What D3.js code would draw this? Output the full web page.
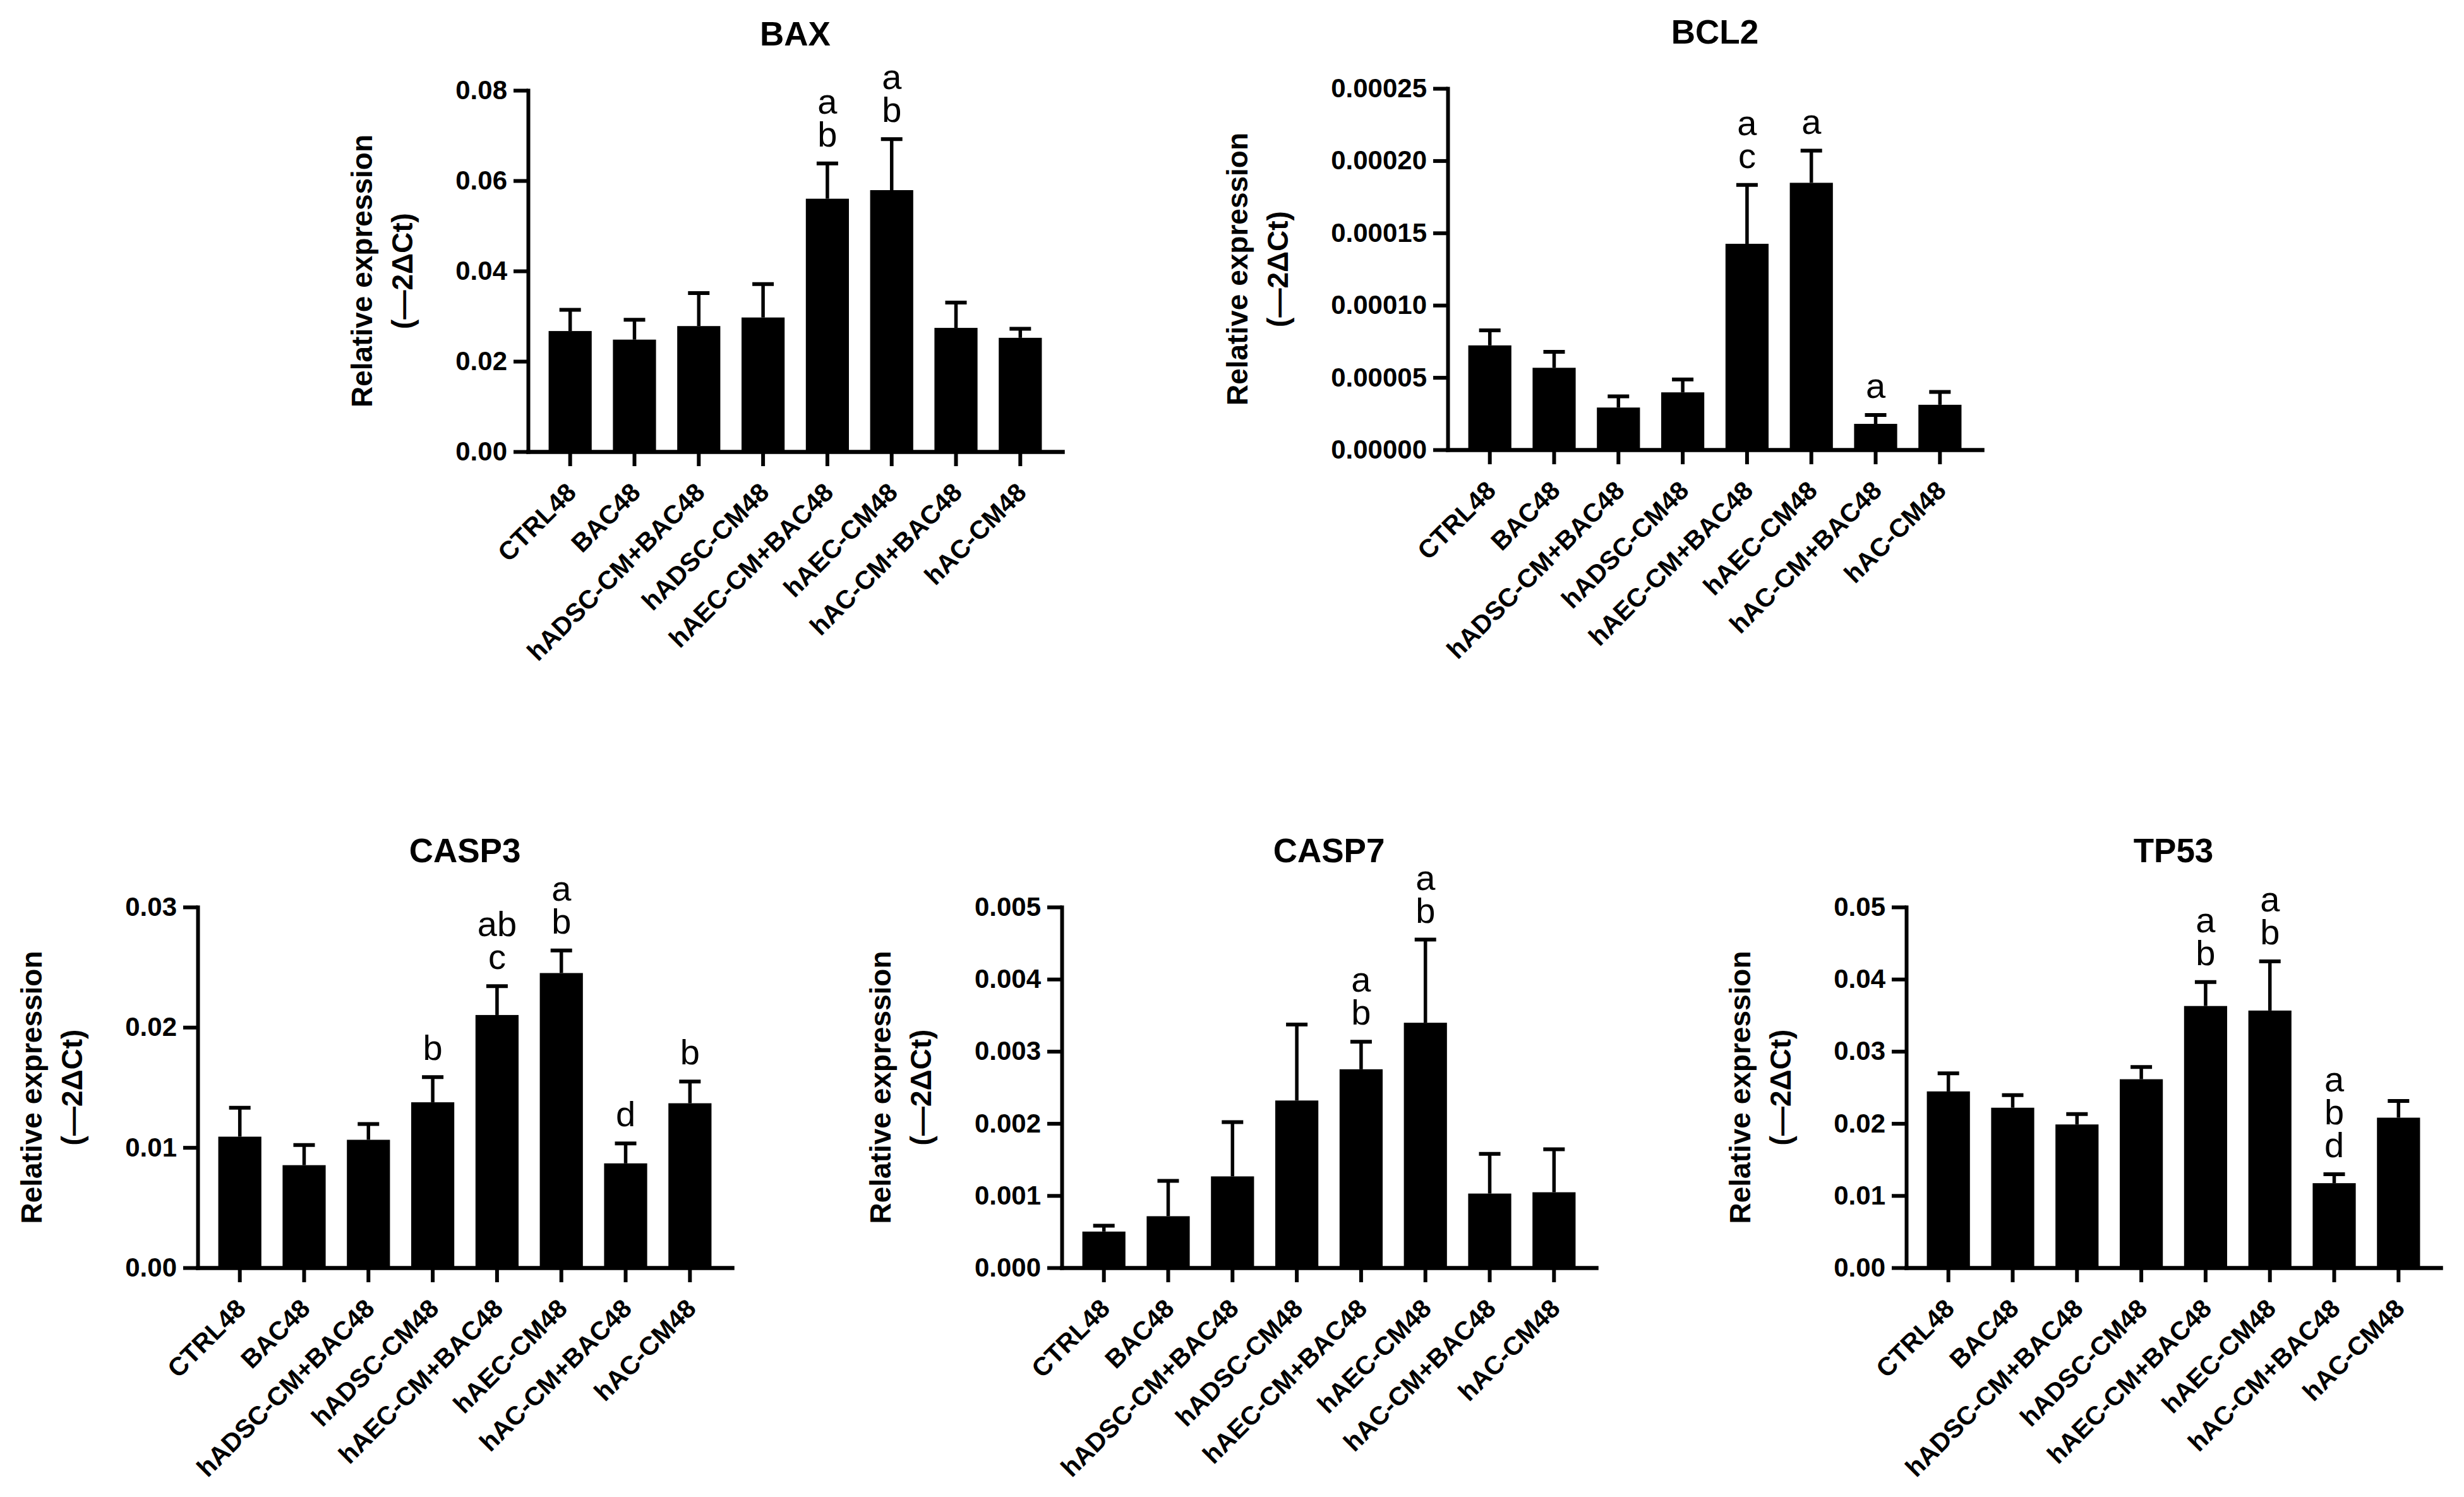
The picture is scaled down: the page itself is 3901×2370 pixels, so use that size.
<!DOCTYPE html>
<html>
<head>
<meta charset="utf-8">
<script src="https://cdn.jsdelivr.net/npm/d3@7"></script>
<style>
  body { margin: 0; background: #fff; }
  svg { display: block; }
</style>
</head>
<body>
<div id="chart"></div>
<script>
// Groups (same for every panel)
const categories = ["CTRL48", "BAC48", "hADSC-CM+BAC48", "hADSC-CM48",
  "hAEC-CM+BAC48", "hAEC-CM48", "hAC-CM+BAC48", "hAC-CM48"];

// Means and error (SEM)
const baxMean = [0.0267, 0.0248, 0.0278, 0.0297, 0.0560, 0.0579, 0.0274, 0.0252];
const baxErr = [0.0047, 0.0044, 0.0073, 0.0074, 0.0078, 0.0113, 0.0056, 0.0020];
const baxTicks = [0, 0.02, 0.04, 0.06, 0.08];
const baxLetters = [[], [], [], [], ["a", "b"], ["a", "b"], [], []];

const bcl2Mean = [0.0000722, 0.0000567, 0.0000292, 0.0000397, 0.0001425, 0.0001847, 0.0000179, 0.0000311];
const bcl2Err = [0.0000104, 0.0000110, 0.0000077, 0.0000089, 0.0000407, 0.0000222, 0.0000061, 0.0000089];
const bcl2Ticks = [0, 0.00005, 0.0001, 0.00015, 0.0002, 0.00025];
const bcl2Letters = [[], [], [], [], ["a", "c"], ["a"], ["a"], []];

const casp3Mean = [0.0109, 0.00853, 0.01064, 0.01376, 0.02102, 0.02451, 0.00868, 0.01368];
const casp3Err = [0.0024, 0.00167, 0.00131, 0.0021, 0.0024, 0.00188, 0.00166, 0.00181];
const casp3Ticks = [0, 0.01, 0.02, 0.03];
const casp3Letters = [[], [], [], ["b"], ["ab", "c"], ["a", "b"], ["d"], ["b"]];

const casp7Mean = [0.000501, 0.000714, 0.001266, 0.002318, 0.002751, 0.003396, 0.001028, 0.001046];
const casp7Err = [0.000082, 0.000489, 0.000752, 0.001053, 0.000382, 0.001153, 0.000551, 0.000596];
const casp7Ticks = [0, 0.001, 0.002, 0.003, 0.004, 0.005];
const casp7Letters = [[], [], [], [], ["a", "b"], ["a", "b"], [], []];

const tp53Mean = [0.02444, 0.02218, 0.01986, 0.02613, 0.03628, 0.03565, 0.01172, 0.0208];
const tp53Err = [0.0025, 0.00175, 0.00144, 0.00169, 0.00332, 0.00683, 0.00125, 0.00232];
const tp53Ticks = [0, 0.01, 0.02, 0.03, 0.04, 0.05];
const tp53Letters = [[], [], [], [], ["a", "b"], ["a", "b"], ["a", "b", "d"], []];

const yTitle = ["Relative expression", "(\u20142\u0394Ct)"];

// Panel placement on the page
const panels = [
  { title: "BAX", mean: baxMean, err: baxErr, ticks: baxTicks, letters: baxLetters, fmt: ".2f", x: 836, top: 143, bottom: 715 },
  { title: "BCL2", mean: bcl2Mean, err: bcl2Err, ticks: bcl2Ticks, letters: bcl2Letters, fmt: ".5f", x: 2292, top: 140, bottom: 712 },
  { title: "CASP3", mean: casp3Mean, err: casp3Err, ticks: casp3Ticks, letters: casp3Letters, fmt: ".2f", x: 313, top: 1436, bottom: 2007 },
  { title: "CASP7", mean: casp7Mean, err: casp7Err, ticks: casp7Ticks, letters: casp7Letters, fmt: ".3f", x: 1681, top: 1436, bottom: 2007 },
  { title: "TP53", mean: tp53Mean, err: tp53Err, ticks: tp53Ticks, letters: tp53Letters, fmt: ".2f", x: 3018, top: 1436, bottom: 2007 }
];

const plotWidth = 846;
const lineW = 6;
const font = "'Liberation Sans', Arial, Helvetica, sans-serif";

const svg = d3.select("#chart")
  .append("svg")
  .attr("width", 3901)
  .attr("height", 2370)
  .style("background", "#fff");

panels.forEach(drawPanel);

function drawPanel(p) {
  const g = svg.append("g");

  const x = d3.scaleBand()
    .domain(categories)
    .range([p.x, p.x + plotWidth])
    .paddingInner(0.33)
    .paddingOuter(0.32);

  const y = d3.scaleLinear()
    .domain([p.ticks[0], p.ticks[p.ticks.length - 1]])
    .range([p.bottom, p.top]);

  const cx = i => x(categories[i]) + x.bandwidth() / 2;

  // bars
  g.selectAll("rect.bar")
    .data(p.mean)
    .join("rect")
    .attr("class", "bar")
    .attr("x", (d, i) => x(categories[i]))
    .attr("width", x.bandwidth())
    .attr("y", d => y(d))
    .attr("height", d => y(0) - y(d))
    .attr("fill", "#000");

  // error bars (upper only)
  const capW = 34;
  const eb = g.selectAll("g.err")
    .data(p.mean)
    .join("g")
    .attr("class", "err");
  eb.append("line")
    .attr("x1", (d, i) => cx(i))
    .attr("x2", (d, i) => cx(i))
    .attr("y1", d => y(d))
    .attr("y2", (d, i) => y(d + p.err[i]))
    .attr("stroke", "#000")
    .attr("stroke-width", 5.5);
  eb.append("line")
    .attr("x1", (d, i) => cx(i) - capW / 2)
    .attr("x2", (d, i) => cx(i) + capW / 2)
    .attr("y1", (d, i) => y(d + p.err[i]))
    .attr("y2", (d, i) => y(d + p.err[i]))
    .attr("stroke", "#000")
    .attr("stroke-width", lineW);

  // significance letters, stacked above the error bar
  const lineH = 52;
  p.letters.forEach((lines, i) => {
    const base = y(p.mean[i] + p.err[i]) - 27;
    lines.forEach((t, k) => {
      g.append("text")
        .attr("x", cx(i))
        .attr("y", base - (lines.length - 1 - k) * lineH)
        .attr("text-anchor", "middle")
        .style("font-family", font)
        .style("font-size", "56px")
        .text(t);
    });
  });

  // y axis
  const yAxis = g.append("g")
    .attr("transform", `translate(${p.x},0)`)
    .call(d3.axisLeft(y)
      .tickValues(p.ticks)
      .tickFormat(d3.format(p.fmt))
      .tickSize(23)
      .tickSizeOuter(0)
      .tickPadding(10));

  // x axis
  const xAxis = g.append("g")
    .attr("transform", `translate(0,${p.bottom})`)
    .call(d3.axisBottom(x)
      .tickSize(23)
      .tickSizeOuter(0)
      .tickPadding(10));

  [yAxis, xAxis].forEach(a => {
    a.attr("font-family", null).attr("font-size", null);
    a.selectAll("path, line")
      .attr("stroke", "#000")
      .attr("stroke-width", lineW);
    a.select(".domain").attr("stroke-linecap", "square");
    a.selectAll("text")
      .style("font-family", font)
      .style("font-weight", "bold")
      .attr("fill", "#000");
  });
  xAxis.select(".domain").attr("stroke-width", 6.5);
  yAxis.selectAll(".tick text").style("font-size", "42px");

  xAxis.selectAll(".tick text")
    .style("font-size", "41px")
    .attr("text-anchor", "end")
    .attr("dy", null)
    .attr("y", 0)
    .attr("transform", "translate(12,67) rotate(-45)");

  // y title, two lines, centred on the plot
  const labW = d3.max(yAxis.selectAll(".tick text").nodes(), n => n.getBBox().width);
  const midY = (p.top + p.bottom) / 2;
  yTitle.forEach((t, k) => {
    const lx = p.x - 33 - labW - 148 + k * 64;
    g.append("text")
      .attr("transform", `translate(${lx},${midY}) rotate(-90)`)
      .attr("text-anchor", "middle")
      .attr("dy", "0.35em")
      .style("font-family", font)
      .style("font-size", "46px")
      .style("font-weight", "bold")
      .text(t);
  });

  // panel title
  g.append("text")
    .attr("x", p.x + plotWidth / 2)
    .attr("y", p.top - 71)
    .attr("text-anchor", "middle")
    .style("font-family", font)
    .style("font-size", "53px")
    .style("font-weight", "bold")
    .text(p.title);
}
</script>
</body>
</html>
